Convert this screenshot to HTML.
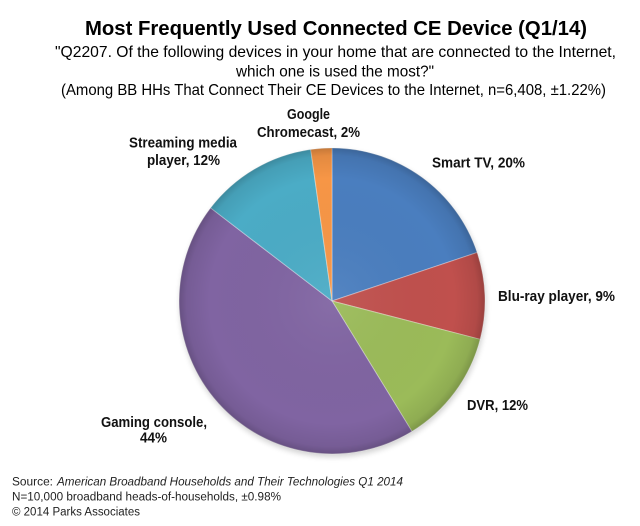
<!DOCTYPE html>
<html>
<head>
<meta charset="utf-8">
<style>
  html, body { margin: 0; padding: 0; background: #ffffff; }
  body { width: 640px; height: 526px; overflow: hidden; }
  svg { display: block; }
  .t { font-family: "Liberation Sans", Arial, sans-serif; fill: #000; }
  .lb { font-family: "Liberation Sans", Arial, sans-serif; font-weight: bold; font-size: 14.5px; fill: #111; }
  .ft { font-family: "Liberation Sans", Arial, sans-serif; font-size: 11.5px; fill: #222; }
</style>
</head>
<body>
<svg width="640" height="526" viewBox="0 0 640 526" xmlns="http://www.w3.org/2000/svg">
  <defs>
    <radialGradient id="shade" cx="332" cy="301" r="153" gradientUnits="userSpaceOnUse">
      <stop offset="0" stop-color="#ffffff" stop-opacity="0.06"/>
      <stop offset="0.8" stop-color="#000000" stop-opacity="0"/>
      <stop offset="0.95" stop-color="#000000" stop-opacity="0.08"/>
      <stop offset="1" stop-color="#000000" stop-opacity="0.2"/>
    </radialGradient>
    <filter id="blur" x="-20%" y="-20%" width="140%" height="140%">
      <feGaussianBlur stdDeviation="3"/>
    </filter>
  </defs>

  <!-- Title -->
  <text class="t" x="85" y="35" font-size="20" font-weight="bold" textLength="502" lengthAdjust="spacingAndGlyphs">Most Frequently Used Connected CE Device (Q1/14)</text>
  <text class="t" x="55" y="57" font-size="16" textLength="561" lengthAdjust="spacingAndGlyphs">"Q2207. Of the following devices in your home that are connected to the Internet,</text>
  <text class="t" x="236" y="76.5" font-size="16" textLength="198" lengthAdjust="spacingAndGlyphs">which one is used the most?"</text>
  <text class="t" x="61" y="95" font-size="16" textLength="545" lengthAdjust="spacingAndGlyphs">(Among BB HHs That Connect Their CE Devices to the Internet, n=6,408, ±1.22%)</text>

  <!-- Shadow -->
  <circle cx="333" cy="304" r="153" fill="#000" opacity="0.18" filter="url(#blur)"/>

  <!-- Pie slices -->
  <g stroke="rgba(255,255,255,0.35)" stroke-width="1" stroke-linejoin="round">
    <!-- Smart TV -->
    <path d="M332,301 L332,148 A153,153 0 0 1 477.1,252.5 Z" fill="#4a7ebf"/>
    <!-- Blu-ray -->
    <path d="M332,301 L477.1,252.5 A153,153 0 0 1 480.1,339.3 Z" fill="#c0504d"/>
    <!-- DVR -->
    <path d="M332,301 L480.1,339.3 A153,153 0 0 1 411.9,431.4 Z" fill="#9bbb59"/>
    <!-- Gaming console -->
    <path d="M332,301 L411.9,431.4 A153,153 0 0 1 210.6,207.9 Z" fill="#8064a2"/>
    <!-- Streaming -->
    <path d="M332,301 L210.6,207.9 A153,153 0 0 1 310.7,149.5 Z" fill="#4bacc6"/>
    <!-- Chromecast -->
    <path d="M332,301 L310.7,149.5 A153,153 0 0 1 332,148 Z" fill="#f79646"/>
  </g>
  <circle cx="332" cy="301" r="153" fill="url(#shade)"/>

  <!-- Labels -->
  <text class="lb" x="287" y="119" textLength="43" lengthAdjust="spacingAndGlyphs">Google</text>
  <text class="lb" x="257" y="137" textLength="103" lengthAdjust="spacingAndGlyphs">Chromecast, 2%</text>
  <text class="lb" x="129" y="147.5" textLength="108" lengthAdjust="spacingAndGlyphs">Streaming media</text>
  <text class="lb" x="147" y="165" textLength="73" lengthAdjust="spacingAndGlyphs">player, 12%</text>
  <text class="lb" x="432" y="167.5" textLength="93" lengthAdjust="spacingAndGlyphs">Smart TV, 20%</text>
  <text class="lb" x="498" y="301" textLength="117" lengthAdjust="spacingAndGlyphs">Blu-ray player, 9%</text>
  <text class="lb" x="467" y="410" textLength="61" lengthAdjust="spacingAndGlyphs">DVR, 12%</text>
  <text class="lb" x="101" y="427" textLength="106" lengthAdjust="spacingAndGlyphs">Gaming console,</text>
  <text class="lb" x="140" y="442.5" textLength="27" lengthAdjust="spacingAndGlyphs">44%</text>

  <!-- Footer -->
  <text class="ft" x="12" y="485.5" textLength="41" lengthAdjust="spacingAndGlyphs">Source:</text>
  <text class="ft" x="57" y="485.5" font-style="italic" textLength="346" lengthAdjust="spacingAndGlyphs">American Broadband Households and Their Technologies Q1 2014</text>
  <text class="ft" x="12" y="500.5" textLength="269" lengthAdjust="spacingAndGlyphs">N=10,000 broadband heads-of-households, ±0.98%</text>
  <text class="ft" x="12" y="515.5" textLength="128" lengthAdjust="spacingAndGlyphs">© 2014 Parks Associates</text>
</svg>
</body>
</html>
